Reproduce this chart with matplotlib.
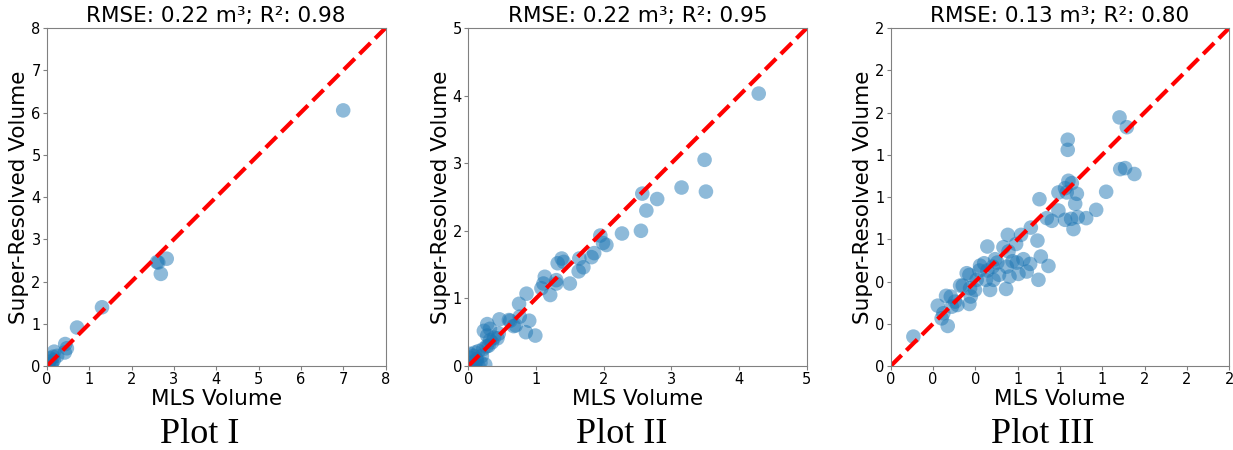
import matplotlib
matplotlib.use("Agg")
import matplotlib.pyplot as plt
from matplotlib.ticker import FormatStrFormatter

# Plot I values (MLS volume vs super-resolved volume)
mls_1 = [7.0, 2.83, 2.6, 2.63, 2.69, 1.30, 0.71, 0.43, 0.47, 0.42, 0.17, 0.24,
         0.08, 0.04, 0.12, 0.16, 0.10, 0.05, 0.02, 0.14]
sr_1 = [6.05, 2.54, 2.46, 2.45, 2.18, 1.39, 0.91, 0.52, 0.42, 0.32, 0.34, 0.24,
        0.18, 0.10, 0.06, 0.14, 0.02, 0.05, 0.01, 0.22]

# Plot II values
mls_2 = [4.29, 3.49, 3.51, 3.15, 2.79, 2.63, 2.57, 2.55, 2.27, 1.95, 1.99, 2.04,
         1.86, 1.82, 1.70, 1.63, 1.64, 1.38, 1.41, 1.32, 1.50, 1.30, 1.30, 1.13,
         1.11, 1.08, 1.21, 0.86, 0.75, 0.90, 0.85, 0.99, 0.76, 0.67, 0.62, 0.46,
         0.43, 0.28, 0.23, 0.32, 0.27, 0.05, 0.08, 0.10, 0.15, 0.12, 0.20, 0.18,
         0.25, 0.03, 0.15, 0.22, 0.30, 0.35, 0.28, 0.32, 0.38, 0.06, 0.10, 0.60,
         0.70, 0.45, 0.02, 0.13]
sr_2 = [4.03, 3.05, 2.58, 2.64, 2.47, 2.30, 2.55, 2.00, 1.96, 1.93, 1.82, 1.79,
        1.67, 1.61, 1.46, 1.40, 1.59, 1.59, 1.54, 1.52, 1.22, 1.27, 1.22, 1.32,
        1.22, 1.15, 1.05, 1.07, 0.92, 0.67, 0.50, 0.45, 0.73, 0.59, 0.67, 0.69,
        0.41, 0.62, 0.52, 0.38, 0.29, 0.05, 0.15, 0.20, 0.22, 0.10, 0.15, 0.05,
        0.02, 0.12, 0.00, 0.25, 0.30, 0.35, 0.45, 0.55, 0.42, 0.00, 0.03, 0.68,
        0.60, 0.48, 0.18, 0.08]

# Plot III values
mls_3 = [1.352, 1.395, 1.046, 1.046, 1.356, 1.385, 1.440, 1.273, 1.050, 1.070,
         1.030, 0.991, 1.040, 1.100, 1.090, 0.879, 0.991, 1.214, 1.030, 1.066,
         1.105, 1.155, 1.080, 0.922, 0.952, 0.828, 0.770, 0.692, 0.741, 0.867,
         0.571, 0.666, 0.696, 0.887, 0.932, 0.784, 0.824, 0.745, 0.804, 0.755,
         0.686, 0.702, 0.873, 0.617, 0.630, 0.603, 0.552, 0.528, 0.524, 0.571,
         0.563, 0.607, 0.587, 0.682, 0.449, 0.465, 0.508, 0.410, 0.426, 0.469,
         0.498, 0.473, 0.465, 0.327, 0.355, 0.380, 0.394, 0.361, 0.278, 0.311,
         0.301, 0.337, 0.134, 0.640, 0.720]
sr_3 = [1.471, 1.413, 1.339, 1.279, 1.165, 1.171, 1.136, 1.031, 1.096, 1.082,
        1.052, 1.027, 1.027, 1.019, 0.960, 0.987, 0.920, 0.924, 0.865, 0.871,
        0.881, 0.875, 0.810, 0.875, 0.859, 0.819, 0.776, 0.776, 0.722, 0.742,
        0.707, 0.703, 0.678, 0.648, 0.592, 0.632, 0.604, 0.612, 0.559, 0.545,
        0.588, 0.529, 0.510, 0.632, 0.612, 0.588, 0.608, 0.594, 0.565, 0.565,
        0.510, 0.510, 0.450, 0.456, 0.549, 0.539, 0.510, 0.476, 0.476, 0.460,
        0.450, 0.411, 0.367, 0.415, 0.411, 0.381, 0.361, 0.351, 0.357, 0.312,
        0.282, 0.237, 0.174, 0.540, 0.620]

titles = ["RMSE: 0.22 m³; R²: 0.98", "RMSE: 0.22 m³; R²: 0.95", "RMSE: 0.13 m³; R²: 0.80"]
captions = ["Plot I", "Plot II", "Plot III"]
limits = [8, 5, 2]
tick_steps = [1, 1, 0.25]

fig = plt.figure(figsize=(12.33, 4.5), dpi=100)
lefts = [47 / 1233, 468.3 / 1233, 890.7 / 1233]
caption_x = [200 / 1233, 622 / 1233, 1043 / 1233]
data = [(mls_1, sr_1), (mls_2, sr_2), (mls_3, sr_3)]

for i, (x, y) in enumerate(data):
    ax = fig.add_axes([lefts[i], 84 / 450, 338.5 / 1233, 338 / 450])
    lim = limits[i]
    ax.scatter(x, y, s=110, color='tab:blue', alpha=0.5, edgecolors='none')
    ax.plot([0, lim], [0, lim], 'r--', linewidth=3)
    ax.set_xlim(0, lim)
    ax.set_ylim(0, lim)
    n = int(round(lim / tick_steps[i]))
    ticks = [k * tick_steps[i] for k in range(n + 1)]
    ax.set_xticks(ticks)
    ax.set_yticks(ticks)
    # integer formatter, so Plot III shows 0 0 0 1 1 1 2 2 2
    ax.xaxis.set_major_formatter(FormatStrFormatter('%.0f'))
    ax.yaxis.set_major_formatter(FormatStrFormatter('%.0f'))
    ax.tick_params(labelsize=10.5, color='gray', length=3, pad=1.5)
    for sp in ax.spines.values():
        sp.set_color('gray')
    ax.set_title(titles[i], fontsize=15.5, pad=4)
    ax.set_xlabel("MLS Volume", fontsize=15.5, labelpad=1)
    ax.set_ylabel("Super-Resolved Volume", fontsize=15.5, labelpad=1.5)
    fig.text(caption_x[i], 0.035, captions[i], ha='center', va='center',
             fontsize=26, family='Liberation Serif')

fig.savefig("out.png", dpi=100)
